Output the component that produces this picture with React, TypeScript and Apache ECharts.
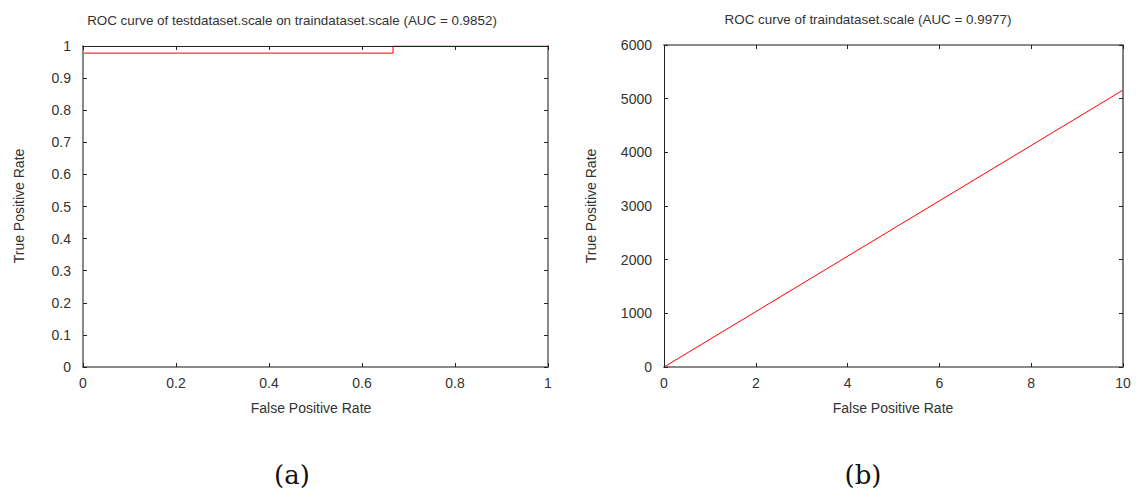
import React, { useEffect, useRef } from "react";
import * as echarts from "echarts";

// (a) ROC curve of testdataset.scale on traindataset.scale
const rocA_fpr = [0, 0, 0.6667, 0.6667, 1];
const rocA_tpr = [0, 0.9778, 0.9778, 1, 1];
const xTicksA = [0, 0.2, 0.4, 0.6, 0.8, 1];
const yTicksA = [0, 0.1, 0.2, 0.3, 0.4, 0.5, 0.6, 0.7, 0.8, 0.9, 1];

// (b) ROC curve of traindataset.scale
const rocB_fpr = [0, 10];
const rocB_tpr = [0, 5160];
const xTicksB = [0, 2, 4, 6, 8, 10];
const yTicksB = [0, 1000, 2000, 3000, 4000, 5000, 6000];

const titleA = "ROC curve of testdataset.scale on traindataset.scale (AUC = 0.9852)";
const titleB = "ROC curve of traindataset.scale (AUC = 0.9977)";
const xName = "False Positive Rate";
const yName = "True Positive Rate";
const captions = ["(a)", "(b)"];

const FONT = "'Liberation Sans', Arial, sans-serif";
const TXT = "#333";
const GRAY = "#8a8a8a";
const DARK = "#222";

function fmt(v: number) {
  return String(Math.round(v * 1000) / 1000);
}

export default function App() {
  const ref = useRef<HTMLDivElement>(null);
  useEffect(() => {
    if (!ref.current) return;
    const chart = echarts.init(ref.current, null, { renderer: "svg" });

    const grids = [
      { left: 83, top: 46, width: 465, height: 321 },
      { left: 664, top: 45, width: 459, height: 322 },
    ];

    const mkX = (gi: number, min: number, max: number, interval: number, pos: "bottom" | "top", lineColor: string, lineW: number) => ({
      type: "value",
      gridIndex: gi,
      position: pos,
      min,
      max,
      interval,
      z: 10,
      axisLine: { show: true, onZero: false, lineStyle: { color: lineColor, width: lineW } },
      axisTick: { show: true, inside: true, length: 4, lineStyle: { color: DARK, width: 1 } },
      axisLabel: pos === "bottom"
        ? { show: true, margin: 9, color: TXT, fontSize: 14, fontFamily: FONT, formatter: fmt }
        : { show: false },
      splitLine: { show: false },
    });
    const mkY = (gi: number, min: number, max: number, interval: number, pos: "left" | "right", lineColor: string, lineW: number) => ({
      type: "value",
      gridIndex: gi,
      position: pos,
      min,
      max,
      interval,
      z: 10,
      axisLine: { show: true, onZero: false, lineStyle: { color: lineColor, width: lineW } },
      axisTick: { show: true, inside: true, length: 4, lineStyle: { color: DARK, width: 1 } },
      axisLabel: pos === "left"
        ? { show: true, margin: 12, color: TXT, fontSize: 14, fontFamily: FONT, formatter: fmt }
        : { show: false },
      splitLine: { show: false },
    });

    const xA0 = xTicksA[0], xA1 = xTicksA[xTicksA.length - 1], xAi = xTicksA[1] - xTicksA[0];
    const yA0 = yTicksA[0], yA1 = yTicksA[yTicksA.length - 1], yAi = yTicksA[1] - yTicksA[0];
    const xB0 = xTicksB[0], xB1 = xTicksB[xTicksB.length - 1], xBi = xTicksB[1] - xTicksB[0];
    const yB0 = yTicksB[0], yB1 = yTicksB[yTicksB.length - 1], yBi = yTicksB[1] - yTicksB[0];

    const text = (t: string, x: number, y: number, size: number, extra: any = {}) => ({
      type: "text",
      x,
      y,
      ...extra,
      style: {
        text: t,
        fill: TXT,
        font: `${size}px ${FONT}`,
        textAlign: "center",
        textVerticalAlign: "middle",
        ...(extra.style || {}),
      },
    });

    chart.setOption({
      animation: false,
      backgroundColor: "#fff",
      grid: grids,
      xAxis: [
        mkX(0, xA0, xA1, xAi, "bottom", GRAY, 2),
        mkX(0, xA0, xA1, xAi, "top", DARK, 1),
        mkX(1, xB0, xB1, xBi, "bottom", GRAY, 2),
        mkX(1, xB0, xB1, xBi, "top", GRAY, 2),
      ],
      yAxis: [
        mkY(0, yA0, yA1, yAi, "left", GRAY, 2),
        mkY(0, yA0, yA1, yAi, "right", GRAY, 2),
        mkY(1, yB0, yB1, yBi, "left", DARK, 1),
        mkY(1, yB0, yB1, yBi, "right", "#555", 1.5),
      ],
      series: [
        {
          type: "line",
          xAxisIndex: 0,
          yAxisIndex: 0,
          data: rocA_fpr.map((x, i) => [x, rocA_tpr[i]]),
          showSymbol: false,
          lineStyle: { color: "#ff0000", width: 1 },
          z: 2,
        },
        {
          type: "line",
          xAxisIndex: 2,
          yAxisIndex: 2,
          data: rocB_fpr.map((x, i) => [x, rocB_tpr[i]]),
          showSymbol: false,
          lineStyle: { color: "#ff0000", width: 1 },
          z: 2,
        },
      ],
      graphic: [
        text(titleA, 292, 20, 13.4),
        text(titleB, 868, 19, 13.4),
        text(xName, 311, 408, 14),
        text(xName, 893, 408, 14),
        text(yName, 19, 206, 14, { rotation: Math.PI / 2 }),
        text(yName, 591, 206, 14, { rotation: Math.PI / 2 }),
        {
          type: "text",
          x: 292,
          y: 475,
          style: { text: captions[0], fill: "#111", font: "26px 'DejaVu Serif', 'Liberation Serif', serif", textAlign: "center", textVerticalAlign: "middle" },
        },
        {
          type: "text",
          x: 863,
          y: 475,
          style: { text: captions[1], fill: "#111", font: "26px 'DejaVu Serif', 'Liberation Serif', serif", textAlign: "center", textVerticalAlign: "middle" },
        },
      ],
    });
    return () => chart.dispose();
  }, []);

  return (
    <div
      ref={ref}
      style={{ position: "fixed", left: 0, top: 0, width: 1144, height: 497, background: "#fff" }}
    />
  );
}
